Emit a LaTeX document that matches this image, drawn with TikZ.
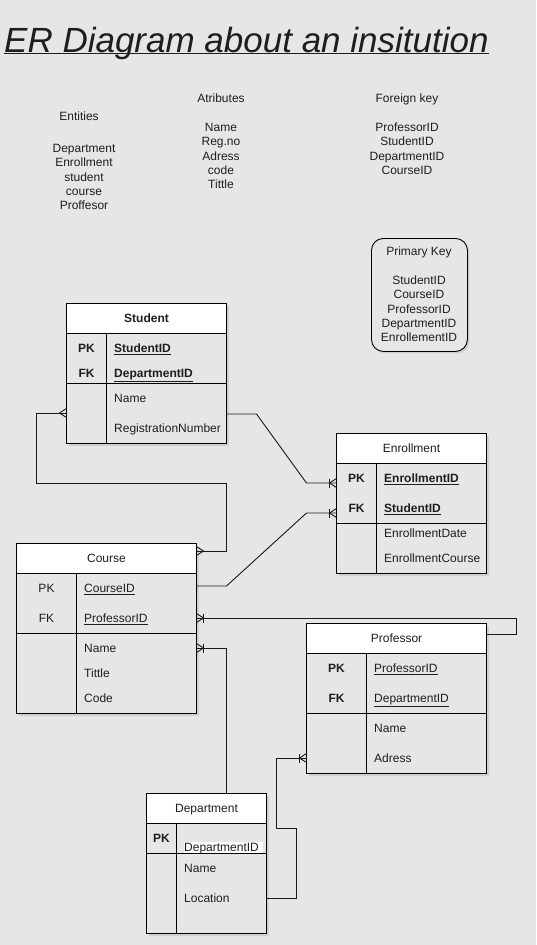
\documentclass[tikz,border=0pt]{standalone}
\usepackage{fontspec}
\setmainfont{Liberation Sans}
\usetikzlibrary{shadows,calc}
\definecolor{bgc}{HTML}{E6E6E6}
\definecolor{txtc}{HTML}{1E1E1E}
\newcommand{\keyu}[1]{\underline{#1}}
\tikzset{
  conn/.style={draw=black!90, line width=0.9pt},
  tline/.style={draw=black, line width=0.9pt},
  tbox/.style={draw=black, line width=0.9pt, fill=bgc, inner sep=0pt, outer sep=0pt, anchor=north west,
    drop shadow={shadow xshift=2pt, shadow yshift=-2pt, opacity=0.22}},
  hbox/.style={draw=black, line width=0.9pt, fill=white, inner sep=0pt, outer sep=0pt, anchor=north west},
  t12/.style={font=\fontsize{12}{14.4}\selectfont, text=txtc, inner sep=0pt, text height=8.6pt, text depth=0pt},
  b12/.style={t12, font=\fontsize{12}{14.4}\selectfont\bfseries},
}
% crow's foot (many) at a named coordinate; #2 = +1/-1 outward direction
\newcommand{\ermany}[2]{%
  \draw[conn] ([yshift=4.5pt]#1) -- ([xshift=#2*7pt]#1) -- ([yshift=-4.5pt]#1);}
\newcommand{\eronemany}[2]{%
  \ermany{#1}{#2}%
  \draw[conn] ([xshift=#2*7pt, yshift=4.5pt]#1) -- ([xshift=#2*7pt, yshift=-4.5pt]#1);}
% table: name, x1, top, width, height, divider x, header bottom, separator y, title
\newcommand{\ertab}[9]{%
  \node[tbox, minimum width=#4pt, minimum height=#5pt] (#1) at (#2,#3) {};
  \node[hbox, minimum width=#4pt, minimum height=30pt] (#1-h) at (#2,#3) {};
  \node[t12] (#1-t) at (#1-h.center) {#9};
  \draw[tline] (#6,#7) -- (#6,{#3+#5});
  \draw[tline] (#2,#8) -- ({#2+#4},#8);
}
\begin{document}
\begin{tikzpicture}[x=1pt, y=-1pt]
\useasboundingbox (0,0) rectangle (536,945);
\fill[bgc] (0,0) rectangle (536,945);

% title
\node[anchor=base west, inner sep=0pt, font=\fontsize{35}{40}\selectfont\itshape, text=txtc] (title) at (4,52) {ER Diagram about an insitution};
\draw[line width=1.1pt, txtc] ([yshift=-1.8pt]title.base west) -- ([yshift=-1.8pt]title.base east);

% lists
\node[t12] (enth) at (79,116) {Entities};
\foreach \t [count=\i from 0] in {Department,Enrollment,student,course,Proffesor}
  \node[t12] (ent\i) at (84,{148+14.4*\i}) {\t};
\node[t12] (atth) at (221,98) {Atributes};
\foreach \t [count=\i from 0] in {Name,Reg.no,Adress,code,Tittle}
  \node[t12] (att\i) at (221,{127+14.4*\i}) {\t};
\node[t12] (fkh) at (407,98) {Foreign key};
\foreach \t [count=\i from 0] in {ProfessorID,StudentID,DepartmentID,CourseID}
  \node[t12] (fk\i) at (407,{127+14.4*\i}) {\t};

% primary key box
\node[draw=black, line width=0.9pt, rounded corners=12pt, fill=bgc, minimum width=96pt, minimum height=113pt,
  anchor=north west, inner sep=0pt, drop shadow={shadow xshift=2pt, shadow yshift=-2pt, opacity=0.22}] (pkbox) at (371,238) {};
\node[t12] (pkh) at (419,251) {Primary Key};
\foreach \t [count=\i from 0] in {StudentID,CourseID,ProfessorID,DepartmentID,EnrollementID}
  \node[t12] (pk\i) at (419,{280+14.4*\i}) {\t};

% Student
\ertab{stu}{66.5}{303.5}{160}{140}{106.5}{333.5}{383.5}{\bfseries Student}
\node[b12] (stu-pk) at (86.5,348) {PK};
\node[b12] (stu-fk) at (86.5,373) {FK};
\node[b12, anchor=west] (stu-f1) at (114,348) {\keyu{StudentID}};
\node[b12, anchor=west] (stu-f2) at (114,373) {\keyu{DepartmentID}};
\node[t12, anchor=west] (stu-f3) at (114,398) {Name};
\node[t12, anchor=west] (stu-f4) at (114,428) {RegistrationNumber};

% Enrollment
\ertab{enr}{336.5}{433.5}{150}{140}{376.5}{463.5}{523.5}{Enrollment}
\node[b12] (enr-pk) at (356.5,478) {PK};
\node[b12] (enr-fk) at (356.5,508) {FK};
\node[b12, anchor=west] (enr-f1) at (384,478) {\keyu{EnrollmentID}};
\node[b12, anchor=west] (enr-f2) at (384,508) {\keyu{StudentID}};
\node[t12, anchor=west] (enr-f3) at (384,533) {EnrollmentDate};
\node[t12, anchor=west] (enr-f4) at (384,558) {EnrollmentCourse};

% Course
\ertab{crs}{16.5}{543.5}{180}{170}{76.5}{573.5}{633.5}{Course}
\node[t12] (crs-pk) at (46.5,588) {PK};
\node[t12] (crs-fk) at (46.5,618) {FK};
\node[t12, anchor=west] (crs-f1) at (84,588) {\keyu{CourseID}};
\node[t12, anchor=west] (crs-f2) at (84,618) {\keyu{ProfessorID}};
\node[t12, anchor=west] (crs-f3) at (84,648) {Name};
\node[t12, anchor=west] (crs-f4) at (84,673) {Tittle};
\node[t12, anchor=west] (crs-f5) at (84,698) {Code};

% Professor
\ertab{prof}{306.5}{623.5}{180}{150}{366.5}{653.5}{713.5}{Professor}
\node[b12] (prof-pk) at (336.5,668) {PK};
\node[b12] (prof-fk) at (336.5,698) {FK};
\node[t12, anchor=west] (prof-f1) at (374,668) {\keyu{ProfessorID}};
\node[t12, anchor=west] (prof-f2) at (374,698) {\keyu{DepartmentID}};
\node[t12, anchor=west] (prof-f3) at (374,728) {Name};
\node[t12, anchor=west] (prof-f4) at (374,758) {Adress};

% Department
\ertab{dep}{146.5}{793.5}{120}{140}{176.5}{823.5}{853.5}{Department}
\node[b12] (dep-pk) at (161.5,838) {PK};
\fill[white] (183.5,841.5) rectangle (263,853);
\node[t12, anchor=west] (dep-f1) at (184,847) {DepartmentID};
\node[t12, anchor=west] (dep-f2) at (184,868) {Name};
\node[t12, anchor=west] (dep-f3) at (184,898) {Location};

% connector end points
\coordinate (stuL) at (66.5,413);
\coordinate (stuR) at (226.5,414);
\coordinate (crsR1) at (196.5,551);
\coordinate (crsR2) at (196.5,586);
\coordinate (crsR3) at (196.5,618);
\coordinate (crsR4) at (196.5,648);
\coordinate (enrL1) at (336.5,483);
\coordinate (enrL2) at (336.5,513);
\coordinate (profR) at (486.5,634.5);
\coordinate (profL) at (306.5,758);
\coordinate (depT) at (226.5,793.5);
\coordinate (depR) at (266.5,898);

% connectors
\draw[conn] (stuL) -- (36.5,413) |- (226.5,483) |- (crsR1);
\draw[conn] (stuR) -- (256.5,414) -- (306.5,483) -- (enrL1);
\draw[conn] (crsR2) -- (226.5,586) -- (306.5,513) -- (enrL2);
\draw[conn] (profR) -- (516.5,634.5) |- (crsR3);
\draw[conn] (depT) |- (crsR4);
\draw[conn] (depR) -- (296.5,898) |- (276.5,828) |- (profL);

\ermany{stuL}{-1}
\ermany{crsR1}{1}
\eronemany{enrL1}{-1}
\eronemany{enrL2}{-1}
\eronemany{crsR3}{1}
\eronemany{crsR4}{1}
\eronemany{profL}{-1}
\end{tikzpicture}
\end{document}
